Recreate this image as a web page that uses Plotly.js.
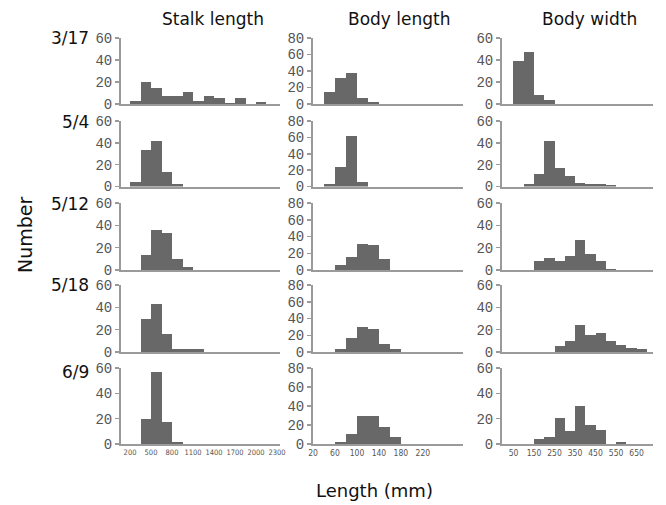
<!DOCTYPE html>
<html>
<head>
<meta charset="utf-8">
<script src="https://cdn.plot.ly/plotly-3.0.1.min.js"></script>
<style>html,body{margin:0;padding:0;background:#fff;}#chart{width:666px;height:505px;}</style>
</head>
<body>
<div id="chart"></div>
<script>
// ---- data ----
const dates = ["3/17", "5/4", "5/12", "5/18", "6/9"];
const panelTitles = ["Stalk length", "Body length", "Body width"];

// bin starts
const stalkBins = [200, 350, 500, 650, 800, 950, 1100, 1250, 1400, 1550, 1700, 1850, 2000, 2150];
const stalkBinWidth = 150;
const bodyLenBins = [40, 60, 80, 100, 120, 140, 160, 180, 200, 220, 240];
const bodyLenBinWidth = 20;
const bodyWidBins = [50, 100, 150, 200, 250, 300, 350, 400, 450, 500, 550, 600, 650];
const bodyWidBinWidth = 50;

// counts (Number) per date
const stalk_0317 = [2.5, 20, 14.5, 7, 7, 11, 3, 7, 5.5, 1, 5.5, 0, 1.5, 0];
const stalk_0504 = [4.3, 33, 42, 13, 2.5, 0, 0, 0, 0, 0, 0, 0, 0, 0];
const stalk_0512 = [0, 13.6, 36, 33, 9.5, 3, 0, 0, 0, 0, 0, 0, 0, 0];
const stalk_0518 = [0, 30, 43, 16.5, 2.5, 2.5, 2.5, 0, 0, 0, 0, 0, 0, 0];
const stalk_0609 = [0, 20, 57, 17.5, 1.3, 0, 0, 0, 0, 0, 0, 0, 0, 0];

const blen_0317 = [14.5, 31, 37, 7.5, 2, 0, 0, 0, 0, 0, 0];
const blen_0504 = [3, 24, 62, 5, 0, 0, 0, 0, 0, 0, 0];
const blen_0512 = [0, 5.5, 15, 31.5, 29.5, 13, 0, 0, 0, 0, 0];
const blen_0518 = [0, 3, 17, 30, 27, 10, 3, 0, 0, 0, 0];
const blen_0609 = [0, 2, 11, 30, 30, 18, 7, 0, 0, 0, 0];

const bwid_0317 = [39.4, 47, 8, 4, 0, 0, 0, 0, 0, 0, 0, 0, 0];
const bwid_0504 = [0, 2.4, 11.4, 41.4, 17, 9.6, 3.6, 2.4, 2.4, 1.5, 0, 0, 0];
const bwid_0512 = [0, 0, 8.5, 10.6, 8.5, 12.4, 27.3, 14, 8.5, 1.2, 0, 0, 0];
const bwid_0518 = [0, 0, 0, 0, 5, 10, 24.6, 15, 17, 10, 6, 4, 2.7];
const bwid_0609 = [0, 0, 4, 5.3, 20.5, 10, 29.7, 14.7, 11.3, 0, 1.6, 0, 0];

const stalkTicks = [200, 500, 800, 1100, 1400, 1700, 2000, 2300];
const bodyLenTicks = [20, 60, 100, 140, 180, 220];
const bodyWidTicks = [50, 150, 250, 350, 450, 550, 650];
const yTicks60 = [0, 20, 40, 60];
const yTicks80 = [0, 20, 40, 60, 80];

// ---- layout geometry ----
const W = 666, H = 505;
const colsX = [[121, 280], [313, 463], [502, 653]];
const rowsY = [[38, 104], [121, 186.5], [203, 270], [285, 352], [368, 444]];
const xRanges = [[71, 2343], [20, 293], [-6, 730]];
const yRanges = [[0, 60], [0, 80], [0, 60]];

const cols = [
  {bins: stalkBins, w: stalkBinWidth, series: [stalk_0317, stalk_0504, stalk_0512, stalk_0518, stalk_0609], ticks: stalkTicks, yt: yTicks60},
  {bins: bodyLenBins, w: bodyLenBinWidth, series: [blen_0317, blen_0504, blen_0512, blen_0518, blen_0609], ticks: bodyLenTicks, yt: yTicks80},
  {bins: bodyWidBins, w: bodyWidBinWidth, series: [bwid_0317, bwid_0504, bwid_0512, bwid_0518, bwid_0609], ticks: bodyWidTicks, yt: yTicks60}
];

const axisColor = '#9a9a9a';
const traces = [];
const layout = {
  width: W, height: H,
  margin: {l: 0, r: 0, t: 0, b: 0},
  paper_bgcolor: '#fff', plot_bgcolor: '#fff',
  showlegend: false,
  bargap: 0,
  annotations: []
};

for (let r = 0; r < 5; r++) {
  for (let c = 0; c < 3; c++) {
    const n = r * 3 + c + 1;
    const sfx = n > 1 ? String(n) : '';
    const col = cols[c];
    traces.push({
      type: 'bar',
      x: col.bins.map(b => b + col.w / 2),
      y: col.series[r],
      width: col.bins.map(() => col.w),
      marker: {color: '#686868', line: {width: 0}},
      xaxis: 'x' + sfx, yaxis: 'y' + sfx,
      hoverinfo: 'skip'
    });
    const bottom = r === 4;
    layout['xaxis' + sfx] = {
      domain: [colsX[c][0] / W, colsX[c][1] / W],
      range: xRanges[c],
      anchor: 'y' + sfx,
      showgrid: false, zeroline: false,
      showline: true, linecolor: axisColor, linewidth: 2,
      ticks: '',
      tickangle: 0,
      tickmode: 'array', tickvals: col.ticks, ticktext: col.ticks.map(String),
      showticklabels: bottom,
      tickfont: {family: 'Liberation Sans Narrow, DejaVu Sans Condensed, Liberation Sans', size: c === 0 ? 7.5 : 8.5, color: '#555'},
      fixedrange: true
    };
    layout['yaxis' + sfx] = {
      domain: [1 - rowsY[r][1] / H, 1 - rowsY[r][0] / H],
      range: yRanges[c],
      anchor: 'x' + sfx,
      showgrid: false, zeroline: false,
      showline: true, linecolor: axisColor, linewidth: 2,
      ticks: 'outside', ticklen: 4, tickwidth: 1.5, tickcolor: axisColor,
      tickmode: 'array', tickvals: col.yt,
      tickfont: {family: 'Liberation Mono, Courier New, monospace', size: 14, color: '#555'},
      fixedrange: true
    };
  }
}

// column titles
const titleX = [213, 399, 589];
panelTitles.forEach((t, i) => {
  layout.annotations.push({text: t, x: titleX[i] / W, y: 1 - 19 / H, xref: 'paper', yref: 'paper',
    showarrow: false, xanchor: 'center', yanchor: 'middle',
    font: {family: 'DejaVu Sans, Liberation Sans', size: 17, color: '#111'}});
});
// row labels
const rowLabelY = [38, 122, 204, 285, 372];
dates.forEach((d, i) => {
  layout.annotations.push({text: d, x: 91 / W, y: 1 - rowLabelY[i] / H, xref: 'paper', yref: 'paper',
    showarrow: false, xanchor: 'right', yanchor: 'middle',
    font: {family: 'DejaVu Sans, Liberation Sans', size: 17, color: '#111'}});
});
layout.annotations.push({text: 'Number', x: 25 / W, y: 1 - 235 / H, xref: 'paper', yref: 'paper',
  showarrow: false, textangle: -90, xanchor: 'center', yanchor: 'middle',
  font: {family: 'DejaVu Sans, Liberation Sans', size: 19, color: '#111'}});
layout.annotations.push({text: 'Length (mm)', x: 374 / W, y: 1 - 490 / H, xref: 'paper', yref: 'paper',
  showarrow: false, xanchor: 'center', yanchor: 'middle',
  font: {family: 'DejaVu Sans, Liberation Sans', size: 18, color: '#111'}});

Plotly.newPlot('chart', traces, layout, {staticPlot: true, displayModeBar: false});
</script>
</body>
</html>
